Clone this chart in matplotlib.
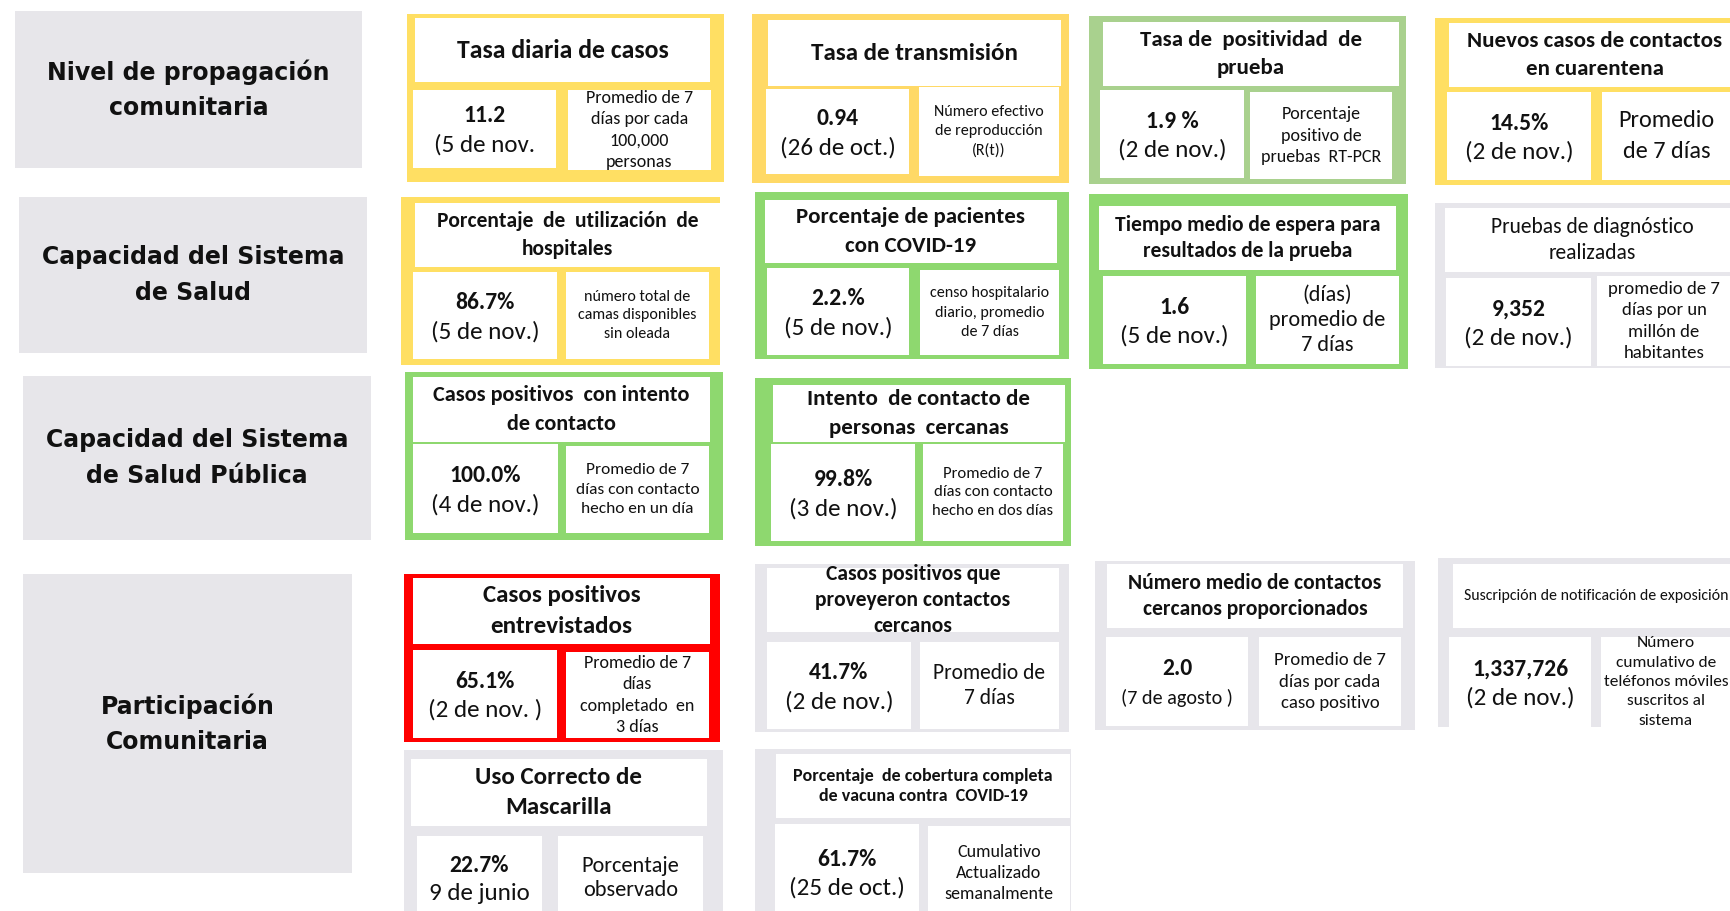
import matplotlib
matplotlib.use("Agg")
import matplotlib.pyplot as plt
from matplotlib.patches import Rectangle
from matplotlib import font_manager

# fuentes: intentar algo parecido a Calibri / Arial Narrow
installed = {f.name for f in font_manager.fontManager.ttflist}
narrow = next((n for n in ["Carlito", "Liberation Sans Narrow", "Open Sans"] if n in installed), "DejaVu Sans")

# --- datos ---
categories = ["Nivel de propagación\ncomunitaria",
              "Capacidad del Sistema\nde Salud",
              "Capacidad del Sistema\nde Salud Pública",
              "Participación\nComunitaria"]

card_titles = ["Tasa diaria de casos",
               "Tasa de transmisión",
               "Tasa de  positividad  de\nprueba",
               "Nuevos casos de contactos\nen cuarentena",
               "Porcentaje  de  utilización  de\nhospitales",
               "Porcentaje de pacientes\ncon COVID-19",
               "Tiempo medio de espera para\nresultados de la prueba",
               "Pruebas de diagnóstico\nrealizadas",
               "Casos positivos  con intento\nde contacto",
               "Intento  de contacto de\npersonas  cercanas",
               "Casos positivos\nentrevistados",
               "Casos positivos que\nproveyeron contactos\ncercanos",
               "Número medio de contactos\ncercanos proporcionados",
               "Suscripción de notificación de exposición",
               "Uso Correcto de\nMascarilla",
               "Porcentaje  de cobertura completa\nde vacuna contra  COVID-19"]

card_values = ["11.2", "0.94", "1.9 %", "14.5%", "86.7%", "2.2.%", "1.6", "9,352",
               "100.0%", "99.8%", "65.1%", "41.7%", "2.0", "1,337,726", "22.7%", "61.7%"]

card_dates = ["(5 de nov.", "(26 de oct.)", "(2 de nov.)", "(2 de nov.)", "(5 de nov.)",
              "(5 de nov.)", "(5 de nov.)", "(2 de nov.)", "(4 de nov.)", "(3 de nov.)",
              "(2 de nov. )", "(2 de nov.)", "(7 de agosto )", "(2 de nov.)", "9 de junio",
              "(25 de oct.)"]

card_notes = ["Promedio de 7\ndías por cada\n100,000\npersonas",
              "Número efectivo\nde reproducción\n(R(t))",
              "Porcentaje\npositivo de\npruebas  RT-PCR",
              "Promedio\nde 7 días",
              "número total de\ncamas disponibles\nsin oleada",
              "censo hospitalario\ndiario, promedio\nde 7 días",
              "(días)\npromedio de\n7 días",
              "promedio de 7\ndías por un\nmillón de\nhabitantes",
              "Promedio de 7\ndías con contacto\nhecho en un día",
              "Promedio de 7\ndías con contacto\nhecho en dos días",
              "Promedio de 7\ndías\ncompletado  en\n3 días",
              "Promedio de\n7 días",
              "Promedio de 7\ndías por cada\ncaso positivo",
              "Número\ncumulativo de\nteléfonos móviles\nsuscritos al\nsistema",
              "Porcentaje\nobservado",
              "Cumulativo\nActualizado\nsemanalmente"]

card_status = ["amarillo", "amarillo2", "verde_claro", "amarillo", "amarillo", "verde", "verde", "gris",
               "verde", "verde", "rojo", "gris", "gris", "gris", "gris", "gris"]

# --- estilo / layout (px, origen arriba-izquierda) ---
colors = {"amarillo": "#FFDF63", "amarillo2": "#FFD966", "verde_claro": "#A9D18E",
          "verde": "#8ED86F", "rojo": "#FF0000", "gris": "#E7E6EB"}

cat_boxes = [(15, 11, 362, 168), (19, 197, 367, 353), (23, 376, 371, 540), (23, 574, 352, 873)]

# outer, title, value, note
card_boxes = [
    ((407, 14, 724, 182), (415, 18, 710, 82), (413, 90, 556, 168), (568, 90, 711, 170)),
    ((752, 14, 1069, 183), (768, 20, 1061, 86), (766, 89, 909, 174), (919, 87, 1059, 176)),
    ((1089, 16, 1406, 184), (1103, 22, 1399, 86), (1100, 90, 1244, 178), (1250, 92, 1392, 179)),
    ((1435, 18, 1740, 185), (1449, 23, 1740, 87), (1447, 92, 1591, 180), (1602, 92, 1731, 180)),
    ((401, 197, 720, 365), (415, 203, 720, 267), (413, 272, 557, 359), (566, 272, 709, 359)),
    ((755, 192, 1069, 359), (765, 200, 1057, 263), (767, 268, 909, 355), (920, 270, 1059, 355)),
    ((1089, 194, 1408, 369), (1099, 206, 1396, 270), (1103, 276, 1246, 364), (1256, 276, 1399, 364)),
    ((1435, 203, 1740, 368), (1445, 208, 1740, 272), (1446, 278, 1591, 366), (1597, 276, 1731, 366)),
    ((405, 372, 723, 540), (413, 377, 710, 442), (413, 444, 558, 533), (566, 446, 709, 533)),
    ((755, 378, 1071, 546), (773, 385, 1065, 442), (771, 444, 915, 541), (923, 444, 1063, 541)),
    ((404, 574, 720, 742), (413, 578, 710, 644), (413, 650, 557, 738), (566, 652, 709, 738)),
    ((755, 564, 1069, 732), (767, 568, 1059, 632), (767, 642, 911, 729), (920, 642, 1059, 729)),
    ((1095, 561, 1415, 730), (1107, 564, 1403, 628), (1106, 637, 1248, 726), (1259, 637, 1401, 726)),
    ((1438, 558, 1740, 727), (1453, 564, 1740, 628), (1449, 637, 1591, 727), (1601, 637, 1731, 727)),
    ((404, 750, 723, 920), (411, 759, 707, 826), (417, 836, 542, 920), (558, 836, 703, 920)),
    ((755, 749, 1071, 920), (776, 754, 1070, 818), (775, 824, 919, 920), (928, 826, 1070, 920)),
]

title_sizes = [18.5, 18, 16.5, 16.5, 15.5, 16.5, 15.5, 15.5, 16, 16.5, 18, 15.5, 15.5, 11.4, 18, 13]
title_bold = [True] * 16
title_bold[7] = False
title_bold[13] = False
title_spacing = [1.55, 1.55, 1.55, 1.55, 1.55, 1.55, 1.35, 1.35,
                 1.55, 1.55, 1.55, 1.35, 1.35, 1.3, 1.55, 1.3]
note_sizes = [13, 11.5, 13, 17.5, 11.5, 11.5, 16, 13.5, 12.5, 12, 13, 15.5, 13.5, 12.5, 16, 13]
note_spacing = [1.41, 1.49, 1.41, 1.54, 1.4, 1.49, 1.31, 1.41,
                1.47, 1.44, 1.41, 1.31, 1.41, 1.49, 1.25, 1.41]
date_sizes = [18] * 16
date_sizes[12] = 14.5
value_size = 17

fig = plt.figure(figsize=(17.31, 9.11), dpi=100)
ax = fig.add_axes([0, 0, 1, 1])
ax.set_xlim(0, 1731)
ax.set_ylim(911, 0)
ax.axis("off")


def box(b, color):
    x0, y0, x1, y1 = b
    ax.add_patch(Rectangle((x0, y0), x1 - x0, y1 - y0, facecolor=color, edgecolor="none"))


def center(b):
    return (b[0] + b[2]) / 2, (b[1] + b[3]) / 2


for b, label in zip(cat_boxes, categories):
    box(b, "#E7E6EA")
    cx, cy = center(b)
    ax.text(cx, cy, label, ha="center", va="center", fontsize=17, fontweight="bold",
            family="DejaVu Sans", linespacing=1.6, color="#111111")

for i, (outer, tb, vb, nb) in enumerate(card_boxes):
    box(outer, colors[card_status[i]])
    for b in (tb, vb, nb):
        box(b, "white")
    cx, cy = center(tb)
    ax.text(cx, cy, card_titles[i], ha="center", va="center", fontsize=title_sizes[i],
            fontweight="bold" if title_bold[i] else "normal", family=narrow,
            linespacing=title_spacing[i], color="#111111")
    cx, cy = center(vb)
    ax.text(cx, cy - 13, card_values[i], ha="center", va="center", fontsize=value_size,
            fontweight="bold", family=narrow, color="#111111")
    ax.text(cx, cy + 16, card_dates[i], ha="center", va="center", fontsize=date_sizes[i],
            family=narrow, color="#111111")
    cx, cy = center(nb)
    ax.text(cx, cy, card_notes[i], ha="center", va="center", fontsize=note_sizes[i],
            family=narrow, linespacing=note_spacing[i], color="#111111")

fig.savefig("out.png", dpi=100)
